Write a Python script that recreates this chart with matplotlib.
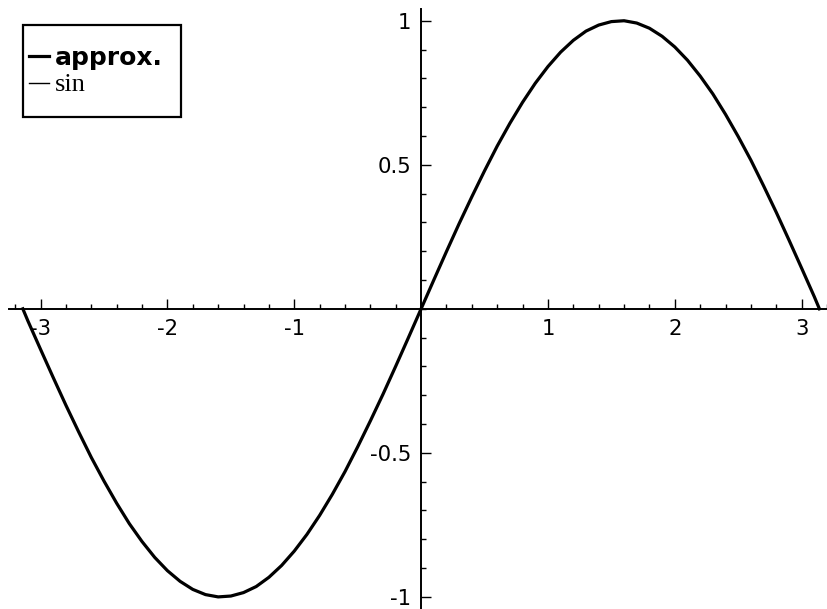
import numpy as np
import matplotlib
matplotlib.use('Agg')
import matplotlib.pyplot as plt
from matplotlib.patches import Rectangle
from matplotlib.ticker import MultipleLocator, FixedLocator

plt.rcParams['axes.unicode_minus'] = False

# values
x_vals = [-3.14, -3.1, -3.0, -2.9, -2.8, -2.7, -2.6, -2.5, -2.4, -2.3, -2.2,
          -2.1, -2.0, -1.9, -1.8, -1.7, -1.6, -1.5, -1.4, -1.3, -1.2, -1.1,
          -1.0, -0.9, -0.8, -0.7, -0.6, -0.5, -0.4, -0.3, -0.2, -0.1,
          0.0, 0.1, 0.2, 0.3, 0.4, 0.5, 0.6, 0.7, 0.8, 0.9, 1.0,
          1.1, 1.2, 1.3, 1.4, 1.5, 1.6, 1.7, 1.8, 1.9, 2.0, 2.1,
          2.2, 2.3, 2.4, 2.5, 2.6, 2.7, 2.8, 2.9, 3.0, 3.1, 3.14]
sin_vals = [0.000, -0.042, -0.141, -0.239, -0.335, -0.427, -0.516, -0.598, -0.675, -0.746, -0.808,
            -0.863, -0.909, -0.946, -0.974, -0.992, -1.000, -0.997, -0.985, -0.964, -0.932, -0.891,
            -0.841, -0.783, -0.717, -0.644, -0.565, -0.479, -0.389, -0.296, -0.199, -0.100,
            0.000, 0.100, 0.199, 0.296, 0.389, 0.479, 0.565, 0.644, 0.717, 0.783, 0.841,
            0.891, 0.932, 0.964, 0.985, 0.997, 1.000, 0.992, 0.974, 0.946, 0.909, 0.863,
            0.808, 0.746, 0.675, 0.598, 0.516, 0.427, 0.335, 0.239, 0.141, 0.042, 0.000]
approx_vals = list(sin_vals)

xticks = [-3, -2, -1, 1, 2, 3]
yticks = [-1, -0.5, 0.5, 1]
ytick_labels = ['-1', '-0.5', '0.5', '1']

W, H = 827, 609
fig = plt.figure(figsize=(W / 100, H / 100), dpi=100)
ax = fig.add_axes([0, 0, 1, 1])
ax.patch.set_visible(False)

ax.plot(x_vals, sin_vals, color='black', lw=1.0, label='sin')
ax.plot(x_vals, approx_vals, color='black', lw=2.3, label='approx.',
        solid_joinstyle='round')

ax.set_xlim(-3.32, 3.2)
ax.set_ylim(-1.042, 1.072)

for s in ['top', 'right']:
    ax.spines[s].set_visible(False)
ax.spines['left'].set_position(('data', 0))
ax.spines['bottom'].set_position(('data', 0))
ax.spines['left'].set_bounds(-1.042, 1.04)
ax.spines['bottom'].set_bounds(-3.25, 3.2)
ax.spines['left'].set_linewidth(1.4)
ax.spines['bottom'].set_linewidth(1.4)

ax.xaxis.set_major_locator(FixedLocator(xticks))
ax.xaxis.set_minor_locator(MultipleLocator(0.2))
ax.yaxis.set_major_locator(FixedLocator(yticks))
ax.yaxis.set_minor_locator(MultipleLocator(0.1))
ax.set_xticklabels([str(t) for t in xticks])
ax.set_yticklabels(ytick_labels)

ax.tick_params(which='both', direction='in', width=1.0, labelsize=15.3)
ax.tick_params(axis='x', which='major', length=7, pad=7)
ax.tick_params(axis='x', which='minor', length=3.5)
ax.tick_params(axis='y', which='major', length=7, pad=7)
ax.tick_params(axis='y', which='minor', length=3.5)

# legend: frameless, box drawn separately
h_sin, h_app = ax.get_lines()
leg = fig.legend([h_app, h_sin], ['approx.', 'sin'], loc='upper left',
                 bbox_to_anchor=(29 / W, 1 - 46 / H), frameon=False,
                 borderpad=0, borderaxespad=0, handlelength=0.8,
                 handletextpad=0.25, labelspacing=0.15, fontsize=18)
t_app, t_sin = leg.get_texts()
t_app.set_fontweight('bold')
t_sin.set_family('Liberation Serif')
t_sin.set_fontsize(19)
fig.patches.append(Rectangle((23 / W, 1 - 117 / H), 158 / W, 92 / H,
                             transform=fig.transFigure, fill=False,
                             edgecolor='black', lw=1.6))

fig.savefig('out.png', dpi=100)
